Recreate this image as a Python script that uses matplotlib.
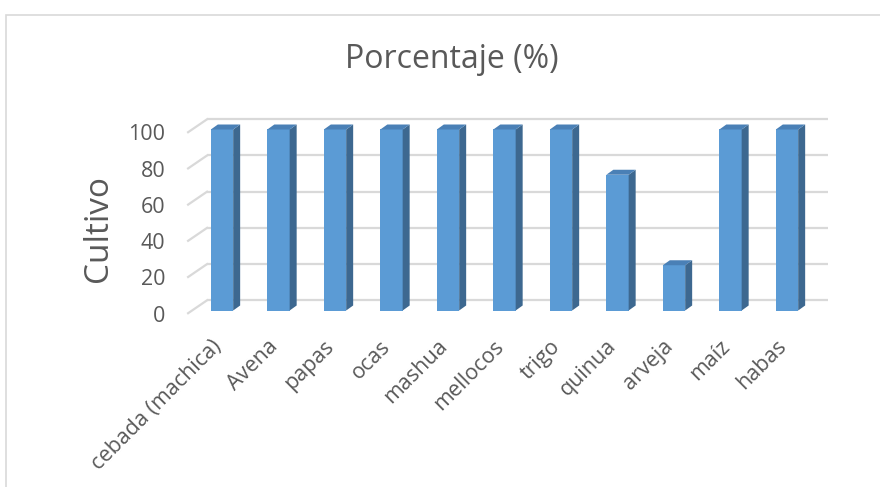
import matplotlib
matplotlib.use("Agg")
import matplotlib.pyplot as plt
from matplotlib.patches import Polygon, Rectangle
import matplotlib.transforms as mtransforms

categories = ["cebada (machica)", "Avena", "papas", "ocas", "mashua", "mellocos",
              "trigo", "quinua", "arveja", "maíz", "habas"]
values = [100, 100, 100, 100, 100, 100, 100, 75, 25, 100, 100]
yticks = [0, 20, 40, 60, 80, 100]
title = "Porcentaje (%)"
ylabel = "Cultivo"

FONT = ["Open Sans", "DejaVu Sans"]
TXT = "#595959"
FRONT = "#5b9bd5"
SIDE = "#3d6890"
TOP = "#4a80b6"
GRID = "#d9d9d9"

W, H = 880, 487
fig = plt.figure(figsize=(W / 100, H / 100), dpi=100)
fig.patch.set_facecolor("white")

# outer chart border (only left/top visible)
fig.patches.append(Rectangle((5.5 / W, -0.5), 2.0, 0.5 + (H - 14.5) / H,
                             transform=fig.transFigure,
                             fill=False, edgecolor=GRID, lw=1.2))

# axes: x in category units (56.5 px each), y in value units (1.81 px each)
px_x = 56.5
px_y = 1.81
x0_px = 222.0
y0_px = 310.5
xlim = (-1.0, 11.0)
ylim = (-5.0, 115.0)
left = (x0_px + xlim[0] * px_x) / W
width = (xlim[1] - xlim[0]) * px_x / W
bottom = (H - (y0_px - ylim[0] * px_y)) / H
height = (ylim[1] - ylim[0]) * px_y / H
ax = fig.add_axes([left, bottom, width, height])
ax.set_xlim(*xlim)
ax.set_ylim(*ylim)
for s in ax.spines.values():
    s.set_visible(False)
ax.patch.set_alpha(0)

# depth offsets
bw = 0.395
bdx = 7.0 / px_x
bdy = 5.0 / px_y
wall_x0 = -0.265
wall_x1 = 10.73
wall_dy = 10.2 / px_y
front_x = -0.60

for v in yticks:
    ax.plot([wall_x0, wall_x1], [v + wall_dy, v + wall_dy], color=GRID, lw=1.6,
            zorder=1, solid_capstyle="butt")
    ax.plot([front_x, wall_x0], [v - 1.5, v + wall_dy], color=GRID, lw=1.6, zorder=1)

xs = list(range(len(categories)))
ax.bar(xs, values, width=bw, color=FRONT, zorder=3, linewidth=0)
for x, v in zip(xs, values):
    r = x + bw / 2
    l = x - bw / 2
    side = Polygon([(r, 0), (r + bdx, bdy), (r + bdx, v + bdy), (r, v)],
                   closed=True, facecolor=SIDE, edgecolor="none", zorder=3)
    top = Polygon([(l, v), (l + bdx, v + bdy), (r + bdx, v + bdy), (r, v)],
                  closed=True, facecolor=TOP, edgecolor="none", zorder=3)
    ax.add_patch(side)
    ax.add_patch(top)

ax.set_yticks(yticks)
ax.set_yticklabels([str(t) for t in yticks], fontsize=15.5, color=TXT, family=FONT)
ax.tick_params(axis="y", length=0, pad=0)
off = mtransforms.ScaledTranslation(0, -3 / 100, fig.dpi_scale_trans)
for lab in ax.get_yticklabels():
    lab.set_transform(lab.get_transform() + off)

ax.set_xticks(xs)
ax.set_xticklabels(categories, rotation=45, ha="right", va="center",
                   rotation_mode="anchor", fontsize=15.5, color=TXT, family=FONT)
ax.tick_params(axis="x", length=0, pad=20)
offx = mtransforms.ScaledTranslation(-4 / 100, 4 / 100, fig.dpi_scale_trans)
for lab in ax.get_xticklabels():
    lab.set_transform(lab.get_transform() + offx)

fig.text(451.5 / W, 1 - 60 / H, title, ha="center", va="center", fontsize=23,
         color=TXT, family=FONT)
fig.text(98 / W, 1 - 228 / H, ylabel, ha="center", va="center", rotation=90,
         fontsize=24, color=TXT, family=FONT)

fig.savefig("out.png", dpi=100, facecolor="white")
